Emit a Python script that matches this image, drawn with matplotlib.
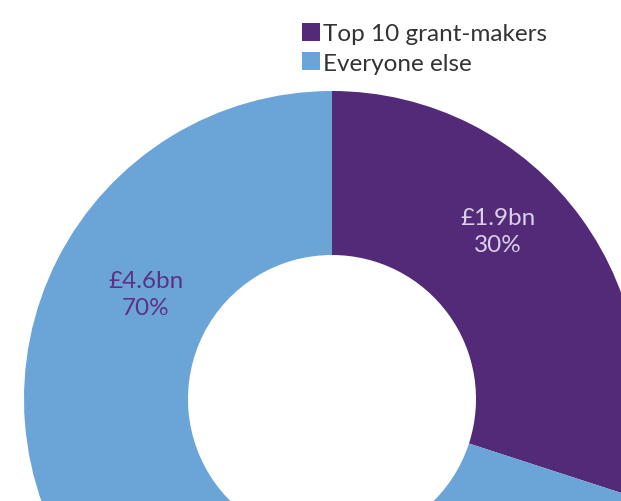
import matplotlib
matplotlib.use('Agg')
import matplotlib.pyplot as plt

plt.rcParams['font.family'] = ['Lato', 'DejaVu Sans']

groups = ['Top 10 grant-makers', 'Everyone else']
amounts = ['£1.9bn', '£4.6bn']
shares = [30, 70]
colors = ['#532a77', '#6ba5d8']
label_colors = ['#dccfe9', '#5b3187']

fig = plt.figure(figsize=(6.21, 5.02), dpi=100)
ax = fig.add_axes([0, 0, 1, 1])

# donut sits low and right, running off the canvas
cx, cy, r = 332, 102, 308
wedges, _ = ax.pie(shares, colors=colors, startangle=90, counterclock=False,
                   center=(cx, cy), radius=r, frame=True,
                   wedgeprops=dict(width=r - 144, linewidth=0))
ax.set_xlim(0, 621)
ax.set_ylim(0, 502)
ax.set_aspect('equal')
ax.axis('off')

label_pos = [(cx + 166, cy + 168), (cx - 186, cy + 105)]
for (x, y), amt, pct, c in zip(label_pos, amounts, shares, label_colors):
    ax.text(x, y, f'{amt}\n{pct}%', ha='center', va='center', fontsize=17.5,
            color=c, linespacing=1.3)

leg = ax.legend(wedges, groups, loc='upper left', bbox_to_anchor=(0.47, 0.972),
                frameon=False, fontsize=17.5, handlelength=0.75, handleheight=0.75,
                handletextpad=0.15, labelspacing=0.33, borderaxespad=0)
for t in leg.get_texts():
    t.set_color('#333333')

fig.savefig('out.png', dpi=100)
